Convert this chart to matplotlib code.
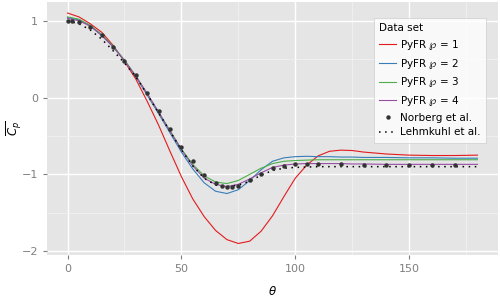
import numpy as np
import matplotlib
matplotlib.use("Agg")
import matplotlib.pyplot as plt
from matplotlib.ticker import MultipleLocator

# ── data ────────────────────────────────────────────────────────────────────
theta = [0, 5, 10, 15, 20, 25, 30, 35, 40, 45, 50, 55, 60, 65, 70, 75,
         80, 85, 90, 95, 100, 105, 110, 115, 120, 125, 130, 140, 150, 160,
         170, 180]

cp_p1 = [1.10, 1.05, 0.96, 0.85, 0.68, 0.47, 0.24, -0.05, -0.36, -0.70,
         -1.03, -1.32, -1.55, -1.73, -1.85, -1.90, -1.87, -1.74, -1.54,
         -1.29, -1.05, -0.88, -0.76, -0.70, -0.685, -0.69, -0.71, -0.735,
         -0.75, -0.755, -0.755, -0.75]
cp_p2 = [1.04, 1.01, 0.93, 0.81, 0.66, 0.48, 0.27, 0.03, -0.21, -0.46,
         -0.71, -0.93, -1.11, -1.22, -1.25, -1.20, -1.08, -0.94, -0.83,
         -0.785, -0.77, -0.765, -0.77, -0.77, -0.775, -0.775, -0.78, -0.78,
         -0.785, -0.785, -0.79, -0.79]
cp_p3 = [1.05, 1.02, 0.94, 0.82, 0.67, 0.49, 0.28, 0.05, -0.19, -0.43,
         -0.67, -0.87, -1.02, -1.10, -1.12, -1.08, -1.00, -0.92, -0.86,
         -0.83, -0.82, -0.815, -0.81, -0.81, -0.81, -0.81, -0.81, -0.81,
         -0.81, -0.81, -0.81, -0.81]
cp_p4 = [1.03, 1.00, 0.93, 0.81, 0.66, 0.48, 0.28, 0.05, -0.19, -0.44,
         -0.68, -0.89, -1.05, -1.13, -1.16, -1.13, -1.06, -0.98, -0.91,
         -0.88, -0.865, -0.86, -0.86, -0.86, -0.86, -0.865, -0.865, -0.87,
         -0.87, -0.87, -0.87, -0.87]
cp_lehm = [1.00, 0.96, 0.88, 0.76, 0.61, 0.45, 0.27, 0.04, -0.20, -0.44,
           -0.68, -0.89, -1.05, -1.14, -1.16, -1.14, -1.09, -1.01, -0.95,
           -0.92, -0.91, -0.905, -0.90, -0.90, -0.90, -0.90, -0.90, -0.90,
           -0.90, -0.90, -0.90, -0.90]

theta_norberg = [0, 2, 5, 10, 15, 20, 25, 30, 35, 40, 45, 50, 55, 60, 65,
                 68, 70, 72, 75, 80, 85, 90, 95, 100, 105, 110, 120, 130,
                 140, 150, 160, 170]
cp_norberg = [1.00, 0.99, 0.98, 0.92, 0.82, 0.66, 0.48, 0.29, 0.06, -0.17,
              -0.41, -0.64, -0.83, -1.01, -1.11, -1.15, -1.16, -1.16, -1.15,
              -1.08, -0.99, -0.92, -0.89, -0.87, -0.87, -0.86, -0.86, -0.88,
              -0.88, -0.88, -0.88, -0.88]

series = [(cp_p1, '#E41A1C', r'PyFR $\wp$ = 1'),
          (cp_p2, '#377EB8', r'PyFR $\wp$ = 2'),
          (cp_p3, '#4DAF4A', r'PyFR $\wp$ = 3'),
          (cp_p4, '#984EA3', r'PyFR $\wp$ = 4')]

# ── figure ──────────────────────────────────────────────────────────────────
fig = plt.figure(figsize=(5, 3), dpi=100)
ax = fig.add_axes([0.094, 0.15, 0.902, 0.845])
ax.set_facecolor('#E5E5E5')
for s in ax.spines.values():
    s.set_visible(False)

ax.set_xlim(-9, 189)
ax.set_ylim(-2.05, 1.25)
ax.xaxis.set_major_locator(MultipleLocator(50))
ax.xaxis.set_minor_locator(MultipleLocator(25))
ax.yaxis.set_major_locator(MultipleLocator(1))
ax.yaxis.set_minor_locator(MultipleLocator(0.5))
ax.grid(True, which='major', color='white', linewidth=1.0)
ax.grid(True, which='minor', color='#F2F2F2', linewidth=0.6)
ax.set_axisbelow(True)
ax.tick_params(which='major', length=3, color='#7F7F7F', labelcolor='#7F7F7F',
               labelsize=8)
ax.tick_params(which='minor', length=0)

for cp, col, lab in series:
    ax.plot(theta, cp, '-', color=col, linewidth=0.8, label=lab, zorder=3)
ax.plot(theta_norberg, cp_norberg, 'o', color='#333333', markersize=3.2,
        markeredgewidth=0, label='Norberg et al.', zorder=4)
ax.plot(theta, cp_lehm, linestyle=(0, (1, 3)), color='black', linewidth=1.1,
        label='Lehmkuhl et al.', zorder=3)

ax.set_xlabel(r'$\theta$', fontsize=8.5)
ax.xaxis.set_label_coords(0.5, -0.12)
ax.set_ylabel(r'$\overline{C_p}$', fontsize=8.5)
ax.yaxis.set_label_coords(-0.052, 0.5)

leg = ax.legend(loc='upper right', bbox_to_anchor=(0.985, 0.955),
                title='Data set', fontsize=7.5, title_fontsize=7.5,
                frameon=True, fancybox=False, handlelength=1.6,
                borderpad=0.5, labelspacing=0.45, handletextpad=0.4)
leg.get_frame().set_facecolor('white')
leg.get_frame().set_edgecolor('#CCCCCC')
leg.get_frame().set_linewidth(0.6)
leg._legend_box.align = 'left'

fig.savefig('out.png', dpi=100)
